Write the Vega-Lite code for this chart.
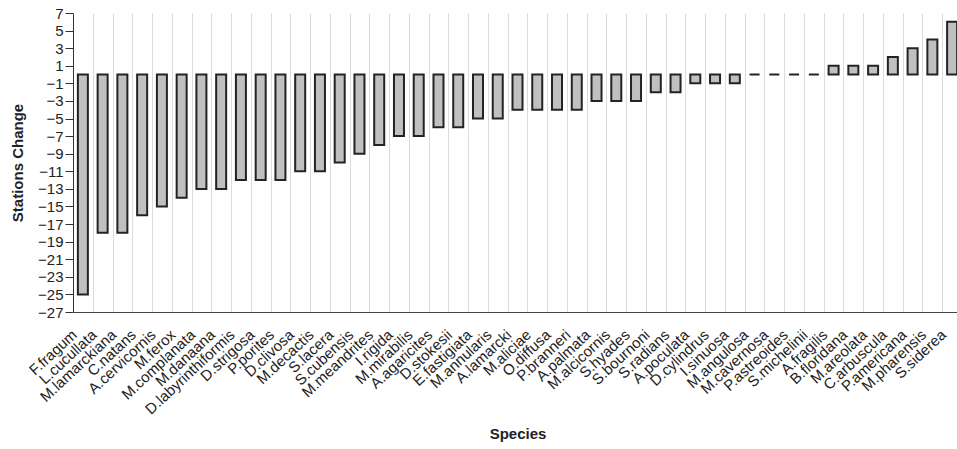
{
  "$schema": "https://vega.github.io/schema/vega-lite/v6.json",
  "width": 884,
  "height": 299,
  "autosize": {"type": "none"},
  "padding": {"left": 73, "top": 13, "right": 0, "bottom": 137},
  "background": "white",
  "config": {
    "view": {"stroke": null},
    "font": "Liberation Sans"
  },
  "data": {
    "values": [
      {"species": "F.fragum", "change": -25},
      {"species": "L.cucullata", "change": -18},
      {"species": "M.lamarckiana", "change": -18},
      {"species": "C.natans", "change": -16},
      {"species": "A.cervicornis", "change": -15},
      {"species": "M.ferox", "change": -14},
      {"species": "M.complanata", "change": -13},
      {"species": "M.danaana", "change": -13},
      {"species": "D.labyrinthiformis", "change": -12},
      {"species": "D.strigosa", "change": -12},
      {"species": "P.porites", "change": -12},
      {"species": "D.clivosa", "change": -11},
      {"species": "M.decactis", "change": -11},
      {"species": "S.lacera", "change": -10},
      {"species": "S.cubensis", "change": -9},
      {"species": "M.meandrites", "change": -8},
      {"species": "I.rigida", "change": -7},
      {"species": "M.mirabilis", "change": -7},
      {"species": "A.agaricites", "change": -6},
      {"species": "D.stokesii", "change": -6},
      {"species": "E.fastigiata", "change": -5},
      {"species": "M.annularis", "change": -5},
      {"species": "A.lamarcki", "change": -4},
      {"species": "M.aliciae", "change": -4},
      {"species": "O.diffusa", "change": -4},
      {"species": "P.branneri", "change": -4},
      {"species": "A.palmata", "change": -3},
      {"species": "M.alcicornis", "change": -3},
      {"species": "S.hyades", "change": -3},
      {"species": "S.bournoni", "change": -2},
      {"species": "S.radians", "change": -2},
      {"species": "A.poculata", "change": -1},
      {"species": "D.cylindrus", "change": -1},
      {"species": "I.sinuosa", "change": -1},
      {"species": "M.angulosa", "change": 0},
      {"species": "M.cavernosa", "change": 0},
      {"species": "P.astreoides", "change": 0},
      {"species": "S.michelinii", "change": 0},
      {"species": "A.fragilis", "change": 1},
      {"species": "B.floridana", "change": 1},
      {"species": "M.areolata", "change": 1},
      {"species": "C.arbuscula", "change": 2},
      {"species": "P.americana", "change": 3},
      {"species": "M.pharensis", "change": 4},
      {"species": "S.siderea", "change": 6}
    ]
  },
  "mark": {
    "type": "bar",
    "size": 10,
    "fill": "#c0c0c0",
    "stroke": "#232323",
    "strokeWidth": 2
  },
  "encoding": {
    "x": {
      "field": "species",
      "type": "nominal",
      "sort": null,
      "scale": {"range": [0, 889], "paddingInner": 0, "paddingOuter": 0},
      "axis": {
        "title": "Species",
        "titleFontSize": 15,
        "titleFontWeight": "bold",
        "titleColor": "#222",
        "titlePadding": 10,
        "labelAngle": -43,
        "labelAlign": "right",
        "labelBaseline": "middle",
        "labelFontSize": 15,
        "labelColor": "#222",
        "labelPadding": 20,
        "labelOffset": -9,
        "labelOverlap": false,
        "labelBound": false,
        "ticks": false,
        "tickBand": "extent",
        "grid": true,
        "gridColor": "#dcdcdc",
        "gridWidth": 1,
        "domainColor": "#444",
        "domainWidth": 1
      }
    },
    "y": {
      "field": "change",
      "type": "quantitative",
      "scale": {"domain": [-27, 7], "nice": false, "zero": false},
      "axis": {
        "title": "Stations Change",
        "titleFontSize": 15,
        "titleFontWeight": "bold",
        "titleColor": "#222",
        "titlePadding": 12,
        "values": [7, 5, 3, 1, -1, -3, -5, -7, -9, -11, -13, -15, -17, -19, -21, -23, -25, -27],
        "labelFontSize": 15,
        "labelColor": "#222",
        "labelPadding": 2,
        "tickSize": 8,
        "tickColor": "#333",
        "domainColor": "#333",
        "domainWidth": 1,
        "grid": false,
        "labelOverlap": false
      }
    }
  }
}
